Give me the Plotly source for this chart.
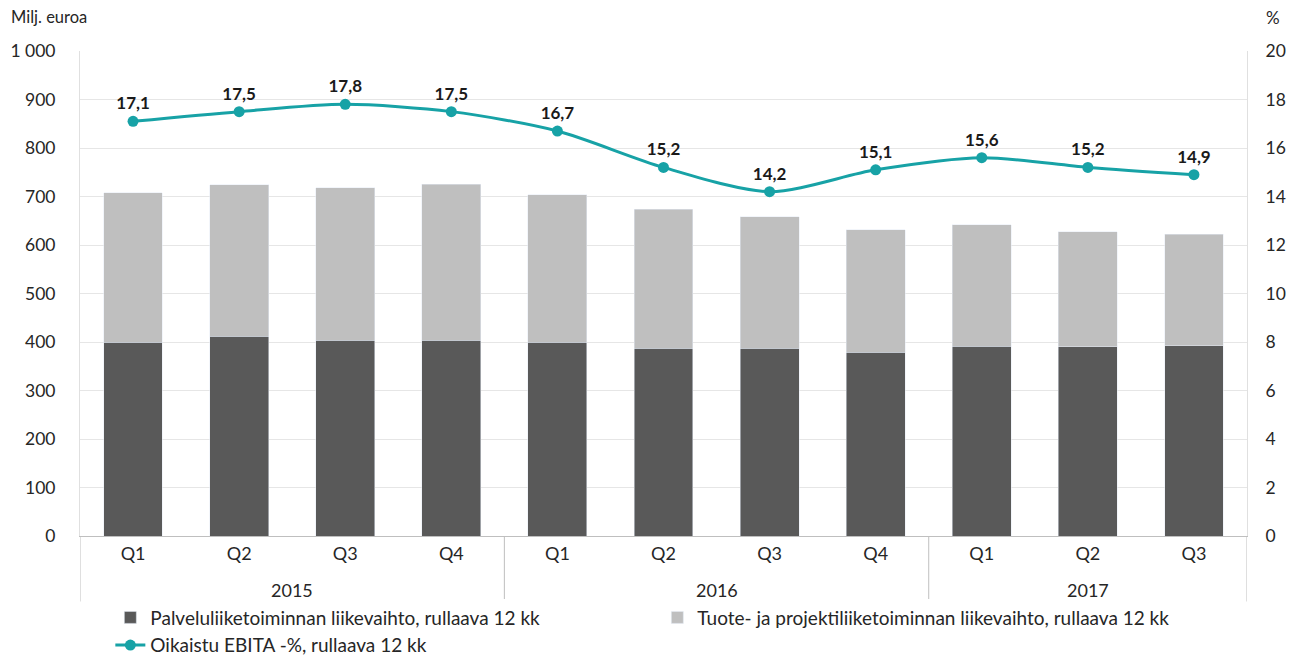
import plotly.graph_objects as go

years = ["2015", "2016", "2017"]
year_counts = [4, 4, 3]
quarters = ["Q1", "Q2", "Q3", "Q4", "Q1", "Q2", "Q3", "Q4", "Q1", "Q2", "Q3"]
palvelu = [399, 412, 404, 404, 400, 387, 387, 379, 391, 390, 392]
total = [708, 724, 718, 725, 704, 674, 658, 631, 642, 627, 622]
tuote = [t - p for t, p in zip(total, palvelu)]
ebita = [17.1, 17.5, 17.8, 17.5, 16.7, 15.2, 14.2, 15.1, 15.6, 15.2, 14.9]
ebita_labels = [f"{v:.1f}".replace(".", ",") for v in ebita]

names = [
    "Palveluliiketoiminnan liikevaihto, rullaava 12 kk",
    "Tuote- ja projektiliiketoiminnan liikevaihto, rullaava 12 kk",
    "Oikaistu EBITA -%, rullaava 12 kk",
]

FONT = "Lato"
TXT = "#262626"

cat_year = []
for y, n in zip(years, year_counts):
    cat_year += [y] * n
cats = [f"{y} {q}" for y, q in zip(cat_year, quarters)]

fig = go.Figure()
fig.add_trace(go.Bar(x=cats, y=palvelu, name=names[0], marker=dict(color="#595959"), width=0.555))
fig.add_trace(go.Bar(x=cats, y=tuote, name=names[1], marker=dict(color="#BFBFBF"), width=0.555))
fig.add_trace(go.Scatter(
    x=cats, y=ebita, name=names[2], yaxis="y2", mode="lines+markers+text",
    line=dict(color="#17A2A6", width=3, shape="spline", smoothing=0.8),
    marker=dict(color="#17A2A6", size=11),
    text=ebita_labels, textposition="top center",
    textfont=dict(family=FONT, size=17, color="#1a1a1a", weight="bold"),
))

shapes = []
annotations = []
start = 0
for y, n in zip(years, year_counts):
    mid = start + (n - 1) / 2
    annotations.append(dict(text=y, x=mid, xref="x", y=-0.111, yref="paper",
                            showarrow=False, yanchor="middle", font=dict(size=18, color=TXT)))
    start += n
bounds = [-0.5]
acc = -0.5
for n in year_counts:
    acc += n
    bounds.append(acc)
for b in bounds:
    shapes.append(dict(type="line", xref="x", yref="paper", x0=b, x1=b, y0=0, y1=-0.135,
                       line=dict(color="#BFBFBF", width=1)))

annotations += [
    dict(text="Milj. euroa", xref="paper", yref="paper", x=-0.0605, y=1.07,
         xanchor="left", yanchor="middle", showarrow=False, font=dict(size=16.5, color=TXT)),
    dict(text="%", xref="paper", yref="paper", x=1.0225, y=1.07,
         xanchor="center", yanchor="middle", showarrow=False, font=dict(size=17, color=TXT)),
]

fig.update_layout(
    width=1299, height=657,
    barmode="stack",
    separators=", ",
    font=dict(family=FONT, size=17, color=TXT),
    plot_bgcolor="white", paper_bgcolor="white",
    margin=dict(l=72, r=60, t=43, b=129, autoexpand=False),
    xaxis=dict(
        type="category", tickvals=cats, ticktext=quarters,
        showline=True, linecolor="#BFBFBF", linewidth=1, mirror=False,
        ticks="", showgrid=False, tickfont=dict(size=18), automargin=False,
        ticklabelstandoff=1, range=[-0.5, len(cats) - 0.5],
    ),
    yaxis=dict(
        range=[0, 1000], dtick=100, tickformat=",", showgrid=True, gridcolor="#E6E6E6",
        showline=True, linecolor="#E0E0E0", ticks="", zeroline=False,
        ticklabelstandoff=20, automargin=False, tickfont=dict(size=17.5),
    ),
    yaxis2=dict(
        range=[0, 20], dtick=2, overlaying="y", side="right", showgrid=False,
        showline=True, linecolor="#E0E0E0", ticks="", zeroline=False,
        ticklabelstandoff=14, automargin=False, tickfont=dict(size=17.5),
    ),
    legend=dict(
        orientation="h", x=0.026, xanchor="left", y=-0.265, yanchor="bottom",
        entrywidth=502, entrywidthmode="pixels", font=dict(size=19, color=TXT),
        traceorder="normal", itemwidth=30,
    ),
    showlegend=True,
    shapes=shapes,
    annotations=annotations,
)

fig.write_html("out.html")
